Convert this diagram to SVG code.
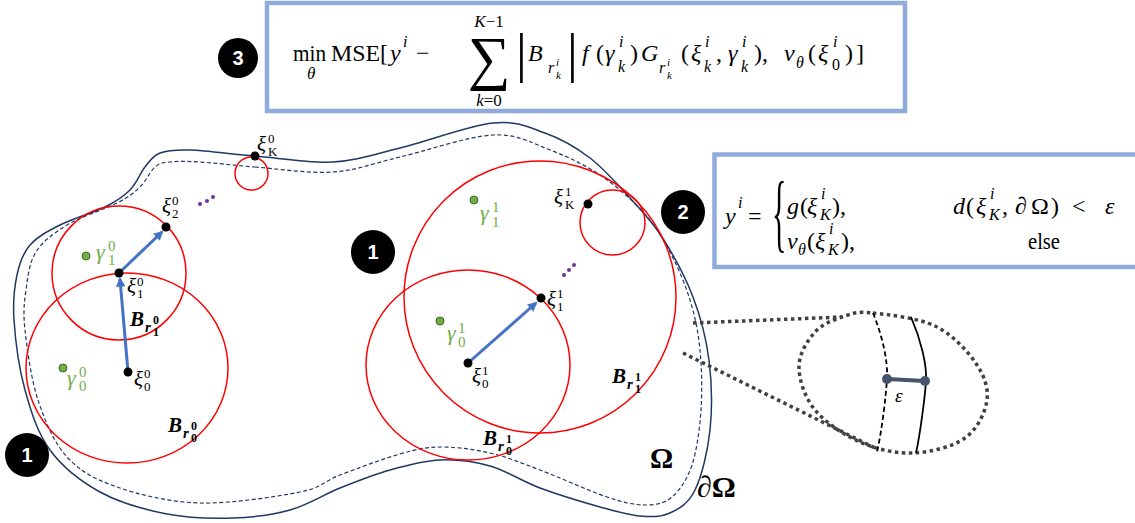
<svg xmlns="http://www.w3.org/2000/svg" width="1135" height="523" viewBox="0 0 1135 523">
<defs>
<style>
.dom{fill:none;stroke:#1F3864;stroke-width:1.5}
.domd{fill:none;stroke:#1F3864;stroke-width:1.2;stroke-dasharray:4 2.5}
.ball{fill:none;stroke:#FF0000;stroke-width:1.5}
.pt{fill:#000}
.gp{fill:#70AD47;stroke:#3E6B25;stroke-width:1}
.pd{fill:#7030A0}
.arr{fill:none;stroke:#4472C4;stroke-width:3;marker-end:url(#ah)}
.box{fill:#fff;stroke:#8FAADC;stroke-width:4.5}
.badge{fill:#000}
.bt{fill:#fff;font-family:"Liberation Sans",Arial,sans-serif;font-weight:bold;font-size:20px;text-anchor:middle}
.m{font-family:"Liberation Serif","DejaVu Serif",serif;font-size:24px;fill:#000}
.it{font-style:italic}
.s16{font-size:16px}
.s11{font-size:11px}
.xl{font-family:"Liberation Serif","DejaVu Serif",serif;font-size:21px;fill:#000}
.sm{font-size:13px;font-style:normal}
.gl{font-family:"Liberation Serif","DejaVu Serif",serif;font-size:22px;fill:#70AD47}
.gs{font-size:15px;font-style:normal}
.bl{font-family:"Liberation Serif","DejaVu Serif",serif;font-weight:bold;font-style:italic;font-size:21px;fill:#000}
.bs{font-size:15px}
.bd{font-size:12px;font-style:normal}
.dot{fill:none;stroke:#404040;stroke-width:3.5;stroke-dasharray:3.5 3.5}
</style>
<marker id="ah" viewBox="0 0 10 10" refX="8" refY="5" markerWidth="3.6" markerHeight="3.2" orient="auto" markerUnits="strokeWidth">
<path d="M0,0 L10,5 L0,10 z" fill="#4472C4"/>
</marker>
</defs>
<rect width="1135" height="523" fill="#fff"/>

<g id="domain">
<path class="dom" d="M255,156 C278.8,158 308.8,163.3 333,162 S373.3,154.5 400,148 S468.8,125.5 493,123 S528.8,127.2 545,133 S575.8,147.2 590,158 S618,184.8 630,198 S651.5,220.5 662,237 S685.2,276.5 693,297 S706.2,337.8 709,360 S712.3,408.3 710,430 S701.7,476.2 695,490 S679.2,508.7 670,513 S651.7,517 640,516 S616.7,511.7 600,507 S558.3,494.8 540,488 S506.7,470.7 490,466 S456.7,459.3 440,460 S406.7,465.3 390,470 S356.7,481.3 340,488 S307.8,505 290,510 S253.5,517.3 233,518 S189.2,518.3 167,514 S119.5,502.7 100,492 S62.5,467 50,450 S31,411.7 25,390 S15.3,339.2 14,320 S14.3,287.5 17,275 S22.8,253.3 30,245 S47.5,231.3 60,225 S93.3,212.8 105,207 S123.3,196.7 130,190 S140,173.2 145,167 S152.5,155.8 160,153 S174.2,149.5 190,150 S231.2,154 255,156 Z"/>
<path class="domd" d="M255,167 C277.2,168.7 308.8,173.7 333,172 S373.3,163.2 400,157 S468,136.2 493,135 S532.2,143.3 550,150 S584.5,164.7 600,175 S631.3,199.2 643,212 S662.2,237.3 670,252 S685,283.7 690,300 S698.2,331.7 700,350 S702.3,390.8 701,410 S696.8,450.5 692,465 S679.8,490.3 672,497 S655.8,505 645,505 S624.5,502.8 607,497 S559.5,477.3 540,470 S506.7,456.8 490,453 S455,446.8 440,447 S416.7,449.3 400,454 S356.7,468.7 340,475 S323.3,487.3 300,492 S230.5,503.8 200,503 S139.2,494.7 117,487 S80.2,471.5 67,457 S45,421.2 38,400 S27,348.3 25,330 S24.2,303 26,290 S29.2,262.8 36,252 S53.5,233.2 67,225 S104.8,209.3 117,203 S133.7,193 140,187 S150,171.2 155,167 S162.5,162.8 170,162 S185.8,161.2 200,162 S232.8,165.3 255,167 Z"/>
<text x="650" y="468" style="font-family:'Liberation Serif','DejaVu Serif',serif;font-weight:bold;font-size:29px">Ω</text>
<text x="697" y="497" style="font-family:'Liberation Serif','DejaVu Serif',serif;font-weight:bold;font-size:30px">∂Ω</text>
</g>

<g id="balls">
<ellipse class="ball" cx="127" cy="368" rx="101" ry="95"/>
<circle class="ball" cx="119" cy="273" r="67"/>
<circle class="ball" cx="251.5" cy="173.5" r="16.5"/>
<ellipse class="ball" cx="468" cy="365" rx="102" ry="95"/>
<circle class="ball" cx="540" cy="297" r="136"/>
<circle class="ball" cx="612.5" cy="222.5" r="32.5"/>
</g>

<g id="connectors">
<line class="arr" x1="128" y1="372" x2="120" y2="279"/>
<line class="arr" x1="119" y1="273" x2="162" y2="232"/>
<line class="arr" x1="468" y1="363" x2="536" y2="303"/>
<line class="dot" x1="693" y1="323" x2="842" y2="317"/>
<line class="dot" x1="683" y1="353" x2="877" y2="449"/>
</g>

<g id="points">
<circle class="pt" cx="128" cy="372" r="4.5"/>
<circle class="pt" cx="119" cy="273" r="4.5"/>
<circle class="pt" cx="166" cy="227" r="4.5"/>
<circle class="pt" cx="255" cy="156" r="4.5"/>
<circle class="pt" cx="468" cy="363" r="4.5"/>
<circle class="pt" cx="541" cy="298" r="4.5"/>
<circle class="pt" cx="588" cy="204" r="4.5"/>
<circle class="gp" cx="86" cy="256" r="4"/>
<circle class="gp" cx="63" cy="368" r="4"/>
<circle class="gp" cx="474" cy="200" r="4"/>
<circle class="gp" cx="440" cy="321" r="4"/>
<circle class="pd" cx="200" cy="204" r="2"/>
<circle class="pd" cx="207" cy="201" r="2"/>
<circle class="pd" cx="213" cy="197" r="2"/>
<circle class="pd" cx="564" cy="275" r="2"/>
<circle class="pd" cx="569" cy="270" r="2"/>
<circle class="pd" cx="574" cy="265" r="2"/>
</g>

<g id="labels">
<text class="xl"><tspan class="it" x="257" y="151">ξ</tspan><tspan class="sm" x="268" y="143">0</tspan><tspan class="sm" x="268" y="156">K</tspan></text>
<text class="xl"><tspan class="it" x="162" y="213">ξ</tspan><tspan class="sm" x="172" y="205">0</tspan><tspan class="sm" x="172" y="218">2</tspan></text>
<text class="xl"><tspan class="it" x="127" y="293">ξ</tspan><tspan class="sm" x="137" y="286">0</tspan><tspan class="sm" x="137" y="298">1</tspan></text>
<text class="xl"><tspan class="it" x="134" y="386">ξ</tspan><tspan class="sm" x="144" y="378">0</tspan><tspan class="sm" x="144" y="391">0</tspan></text>
<text class="xl"><tspan class="it" x="554" y="204">ξ</tspan><tspan class="sm" x="565" y="196">1</tspan><tspan class="sm" x="565" y="209">K</tspan></text>
<text class="xl"><tspan class="it" x="547" y="306">ξ</tspan><tspan class="sm" x="557" y="298">1</tspan><tspan class="sm" x="557" y="311">1</tspan></text>
<text class="xl"><tspan class="it" x="472" y="383">ξ</tspan><tspan class="sm" x="482" y="375">1</tspan><tspan class="sm" x="482" y="388">0</tspan></text>

<text class="gl"><tspan class="it" x="96" y="259">γ</tspan><tspan class="gs" x="108" y="251">0</tspan><tspan class="gs" x="108" y="265">1</tspan></text>
<text class="gl"><tspan class="it" x="67" y="385">γ</tspan><tspan class="gs" x="79" y="377">0</tspan><tspan class="gs" x="79" y="391">0</tspan></text>
<text class="gl"><tspan class="it" x="480" y="220">γ</tspan><tspan class="gs" x="492" y="212">1</tspan><tspan class="gs" x="492" y="227">1</tspan></text>
<text class="gl"><tspan class="it" x="447" y="340">γ</tspan><tspan class="gs" x="458" y="333">1</tspan><tspan class="gs" x="458" y="347">0</tspan></text>

<text class="bl"><tspan x="130" y="326">B</tspan><tspan class="bs" x="145" y="332">r</tspan><tspan class="bd" x="153" y="324">0</tspan><tspan class="bd" x="153" y="336">1</tspan></text>
<text class="bl"><tspan x="168" y="432">B</tspan><tspan class="bs" x="183" y="438">r</tspan><tspan class="bd" x="191" y="430">0</tspan><tspan class="bd" x="191" y="442">0</tspan></text>
<text class="bl"><tspan x="483" y="445">B</tspan><tspan class="bs" x="498" y="451">r</tspan><tspan class="bd" x="506" y="443">1</tspan><tspan class="bd" x="506" y="455">0</tspan></text>
<text class="bl"><tspan x="612" y="383">B</tspan><tspan class="bs" x="627" y="389">r</tspan><tspan class="bd" x="635" y="381">1</tspan><tspan class="bd" x="635" y="393">1</tspan></text>
</g>

<g id="zoom-inset">
<path class="dot" d="M873,313 C888,314.7 918,317.8 935,326 S966.3,349.7 975,362 S988.7,387.3 987,400 S977.3,429.2 965,438 S930.5,452.3 913,453 S876.3,449.2 860,442 S825.2,422.5 815,410 S799,380 799,367 S807.3,340.5 815,332 S835.3,319.2 845,316 S858,311.3 873,313 Z"/>
<path d="M873,313 C882,335 888,360 887,378 S882,430 877,452" fill="none" stroke="#000" stroke-width="1.8" stroke-dasharray="5 3"/>
<path d="M911,317 C921,340 927,365 926,381 S920,435 916,453" fill="none" stroke="#000" stroke-width="1.8"/>
<line x1="887" y1="379" x2="925" y2="381" stroke="#44546A" stroke-width="4"/>
<circle cx="887" cy="379" r="5" fill="#44546A"/>
<circle cx="925" cy="381" r="5" fill="#44546A"/>
<text x="895" y="402" class="m it" style="font-size:19px">ε</text>
</g>

<g id="box-loss">
<rect class="box" x="267" y="3" width="638" height="108"/>
<text class="m" x="293" y="61" textLength="33" lengthAdjust="spacingAndGlyphs">min</text>
<text class="m it" x="307" y="79" style="font-size:17px">θ</text>
<text class="m" x="331" y="61" textLength="57" lengthAdjust="spacingAndGlyphs">MSE[</text>
<text class="m" y="61"><tspan class="it" x="390">y</tspan><tspan class="it s16" x="403" y="47">i</tspan><tspan x="416" y="61">−</tspan></text>
<text class="m" x="489" y="78" text-anchor="middle" style="font-size:60px">∑</text>
<text class="m" x="489" y="27" text-anchor="middle" style="font-size:17px"><tspan class="it">K</tspan>−1</text>
<text class="m" x="489" y="106" text-anchor="middle" style="font-size:17px"><tspan class="it">k</tspan>=0</text>
<text class="m" x="516" y="71" style="font-size:54px">|</text>
<text class="m" y="61"><tspan class="it" x="528">B</tspan><tspan class="it s16" x="548" y="73">r</tspan><tspan class="it s11" x="556" y="66">i</tspan><tspan class="it s11" x="556" y="79">k</tspan></text>
<text class="m" x="567" y="71" style="font-size:54px">|</text>
<text class="m" y="61"><tspan class="it" x="582">f</tspan><tspan x="596">(</tspan><tspan class="it" x="605">γ</tspan><tspan class="it s16" x="619" y="47">i</tspan><tspan class="it s16" x="618" y="72">k</tspan><tspan x="630" y="61">)</tspan><tspan class="it" x="641">G</tspan><tspan class="it s16" x="659" y="73">r</tspan><tspan class="it s11" x="667" y="66">i</tspan><tspan class="it s11" x="667" y="79">k</tspan><tspan x="681" y="61">(</tspan><tspan class="it" x="691">ξ</tspan><tspan class="it s16" x="705" y="47">i</tspan><tspan class="it s16" x="704" y="72">k</tspan><tspan x="716" y="61">,</tspan><tspan class="it" x="728">γ</tspan><tspan class="it s16" x="742" y="47">i</tspan><tspan class="it s16" x="741" y="72">k</tspan><tspan x="754" y="61">),</tspan><tspan class="it" x="784">v</tspan><tspan class="it s16" x="796" y="68">θ</tspan><tspan x="808" y="61">(</tspan><tspan class="it" x="818">ξ</tspan><tspan class="it s16" x="833" y="47">i</tspan><tspan class="s16" x="832" y="70">0</tspan><tspan x="845" y="61">)</tspan><tspan x="856" y="61">]</tspan></text>
</g>

<g id="box-target">
<rect class="box" x="714.5" y="154.5" width="430" height="112.5"/>
<text class="m"><tspan class="it" x="725" y="224">y</tspan><tspan class="it s16" x="738" y="208">i</tspan><tspan x="748" y="224">=</tspan></text>
<text class="m" transform="translate(772,241) scale(1,2.9)" style="font-size:30px">{</text>
<text class="m"><tspan class="it" x="787" y="214">g</tspan><tspan x="800" y="214">(</tspan><tspan class="it" x="807" y="214">ξ</tspan><tspan class="it s16" x="821" y="199">i</tspan><tspan class="it s16" x="820" y="220">K</tspan><tspan x="832" y="214">),</tspan></text>
<text class="m"><tspan class="it" x="787" y="249">v</tspan><tspan class="it s16" x="798" y="255">θ</tspan><tspan x="807" y="249">(</tspan><tspan class="it" x="815" y="249">ξ</tspan><tspan class="it s16" x="829" y="234">i</tspan><tspan class="it s16" x="828" y="255">K</tspan><tspan x="841" y="249">),</tspan></text>
<text class="m"><tspan class="it" x="953" y="214">d</tspan><tspan x="966" y="214">(</tspan><tspan class="it" x="976" y="214">ξ</tspan><tspan class="it s16" x="990" y="199">i</tspan><tspan class="it s16" x="989" y="220">K</tspan><tspan x="1002" y="214">,</tspan><tspan x="1015" y="214">∂</tspan><tspan x="1031" y="214">Ω</tspan><tspan x="1051" y="214">)</tspan><tspan x="1072" y="214">&lt;</tspan><tspan class="it" x="1105" y="214">ε</tspan></text>
<text class="m" x="1028" y="249" textLength="32" lengthAdjust="spacingAndGlyphs">else</text>
</g>

<g id="badge-1a"><circle class="badge" cx="27" cy="455" r="22"/><text class="bt" x="27" y="462">1</text></g>
<g id="badge-1b"><circle class="badge" cx="373" cy="252" r="22"/><text class="bt" x="373" y="259">1</text></g>
<g id="badge-2"><circle class="badge" cx="683" cy="212" r="22"/><text class="bt" x="683" y="219">2</text></g>
<g id="badge-3"><circle class="badge" cx="238" cy="58" r="20"/><text class="bt" x="238" y="65">3</text></g>
</svg>
